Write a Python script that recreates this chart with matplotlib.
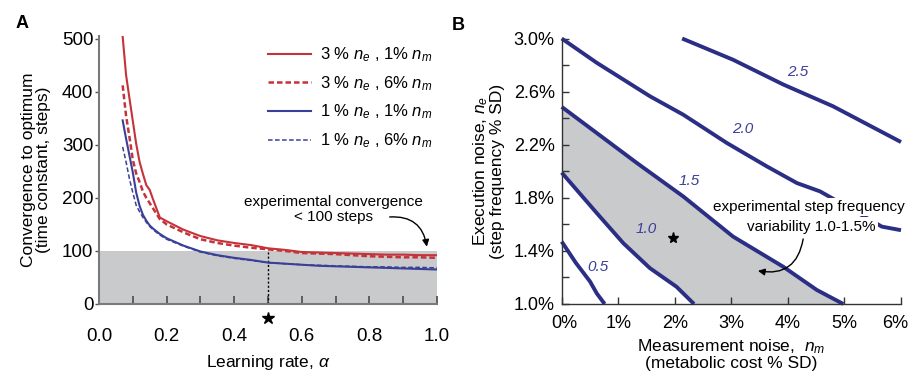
import matplotlib
matplotlib.use("Agg")
import matplotlib.pyplot as plt
import matplotlib.transforms as mtransforms
import numpy as np

plt.rcParams['font.family'] = ['Liberation Sans', 'DejaVu Sans']
plt.rcParams['mathtext.fontset'] = 'custom'
plt.rcParams['mathtext.rm'] = 'Liberation Sans'
plt.rcParams['mathtext.it'] = 'Liberation Sans:italic'
plt.rcParams['mathtext.bf'] = 'Liberation Sans:bold'

# ---------------- Panel A data ----------------
alpha = [0.07, 0.08, 0.09, 0.10, 0.11, 0.12, 0.13, 0.14, 0.15, 0.16, 0.18, 0.20,
         0.25, 0.30, 0.35, 0.40, 0.45, 0.50, 0.55, 0.60, 0.65, 0.70, 0.75, 0.80,
         0.85, 0.90, 0.95, 1.00]
tau_3e_1m = [504, 432, 388, 345, 302, 268, 245, 224, 215, 197, 163, 156,
             140, 128, 120, 115, 111, 105, 102, 98, 97, 96, 95, 94,
             93, 93, 92, 92]
tau_3e_6m = [412, 355, 315, 272, 246, 230, 212, 200, 190, 180, 160, 150,
             135, 122, 115, 110, 106, 103, 100, 96, 95, 94, 92, 90,
             89, 88, 88, 87]
tau_1e_1m = [346, 312, 280, 248, 210, 185, 168, 157, 148, 142, 132, 124,
             110, 99, 92, 87, 83, 78, 76, 74, 72, 71, 70, 69,
             68, 67, 66, 65]
tau_1e_6m = [296, 268, 236, 210, 186, 174, 163, 154, 146, 140, 130, 122,
             109, 98, 91, 86, 82, 78, 76, 74, 73, 72, 71, 70,
             70, 69, 69, 68]
series_labels = [r'3 % $n_e$ , 1% $n_m$', r'3 % $n_e$ , 6% $n_m$',
                 r'1 % $n_e$ , 1% $n_m$', r'1 % $n_e$ , 6% $n_m$']
exp_threshold = 100
chosen_alpha = 0.5
chosen_top = 104

# ---------------- Panel B data ----------------
c05_x = [0.0, 0.25, 0.50, 0.62, 0.76]
c05_y = [1.47, 1.31, 1.17, 1.08, 1.0]
c10_x = [0.0, 0.62, 1.09, 1.56, 2.03, 2.34]
c10_y = [1.99, 1.685, 1.458, 1.27, 1.13, 1.0]
c15_x = [0.0, 0.62, 1.33, 2.15, 3.03, 3.92, 4.51, 4.98]
c15_y = [2.485, 2.288, 2.062, 1.81, 1.508, 1.28, 1.106, 1.0]
c20_x = [0.0, 0.62, 1.56, 2.15, 2.92, 3.63, 4.16, 4.57, 5.10, 5.66, 6.0]
c20_y = [3.0, 2.817, 2.565, 2.426, 2.213, 2.036, 1.911, 1.848, 1.72, 1.583, 1.556]
c25_x = [2.13, 3.03, 3.92, 4.80, 6.0]
c25_y = [3.0, 2.84, 2.653, 2.489, 2.22]
contour_levels = ['0.5', '1.0', '1.5', '2.0', '2.5']
contour_label_x = [0.65, 1.49, 2.26, 3.20, 4.18]
contour_label_y = [1.282, 1.564, 1.923, 2.318, 2.745]
star_b = (1.96, 1.50)

red = '#c5323a'
blue = '#3b3f98'
navy = '#2b2e85'
grey_fill = '#c9cacc'

fig = plt.figure(figsize=(9.11, 3.81), dpi=100)

# ================= Panel A =================
axA = fig.add_axes([99/911, 1-304/381, 338/911, 268/381])
axA.set_xlim(0, 1.0)
axA.set_ylim(0, 505)
axA.axhspan(0, exp_threshold, xmin=0, xmax=1, color=grey_fill, lw=0, zorder=0)
lA1, = axA.plot(alpha, tau_3e_1m, color=red, lw=1.5, zorder=3)
lA2, = axA.plot(alpha, tau_3e_6m, color=red, lw=1.8, ls=(0, (2.2, 1.2)), zorder=3)
lA3, = axA.plot(alpha, tau_1e_1m, color=blue, lw=1.5, zorder=3)
lA4, = axA.plot(alpha, tau_1e_6m, color=blue, lw=1.1, ls=(0, (3, 1.6)), zorder=3)
axA.plot([chosen_alpha, chosen_alpha], [0, chosen_top], color='black', lw=1.0,
         ls=(0, (1.5, 1.5)), zorder=2)
axA.plot([chosen_alpha], [-27], marker='*', color='black', ms=9, clip_on=False,
         zorder=5)

for s in ['top', 'right']:
    axA.spines[s].set_visible(False)
for s in ['left', 'bottom']:
    axA.spines[s].set_color('#7a7a7a')
    axA.spines[s].set_linewidth(1.5)
xt = np.round(np.arange(0, 1.01, 0.1), 1)
axA.set_xticks(xt)
axA.set_xticklabels([f'{v:.1f}' if i % 2 == 0 else '' for i, v in enumerate(xt)])
axA.set_yticks([0, 100, 200, 300, 400, 500])
axA.tick_params(axis='x', direction='in', length=6, width=1.3, color='#555555',
                labelsize=13.5, pad=17)
axA.tick_params(axis='y', direction='out', length=3, width=1.0, color='#555555',
                labelsize=13.5, pad=1)
axA.set_xlabel(r'Learning rate, $\alpha$', fontsize=12.5, labelpad=6)
axA.set_ylabel('Convergence to optimum\n(time constant, steps)', fontsize=12.5,
               labelpad=8, linespacing=1.0)

leg = axA.legend([lA1, lA2, lA3, lA4], series_labels, loc='upper left',
                 bbox_to_anchor=(0.48, 0.99), frameon=False, fontsize=12,
                 handlelength=2.6, handletextpad=0.5, labelspacing=0.6,
                 borderaxespad=0)
axA.text(0.695, 178, 'experimental convergence\n< 100 steps', fontsize=11,
         ha='center', va='center', linespacing=1.15)
axA.annotate('', xy=(0.97, 108), xytext=(0.86, 164),
             arrowprops=dict(arrowstyle='-|>', color='black', lw=1.0,
                             connectionstyle='arc3,rad=-0.45',
                             mutation_scale=10, shrinkA=0, shrinkB=0))

fig.text(22/911, 1-23/381, 'A', fontsize=13, fontweight='bold', ha='center',
         va='center')

# ================= Panel B =================
axB = fig.add_axes([561.7/911, 1-304/381, 339.3/911, 265.5/381])
axB.set_xlim(0, 6)
axB.set_ylim(1.0, 3.0)

fill_x = list(c15_x) + list(c10_x[::-1])
fill_y = list(c15_y) + list(c10_y[::-1])
axB.fill(fill_x, fill_y, color=grey_fill, lw=0, zorder=0)
for cx, cy in [(c05_x, c05_y), (c10_x, c10_y), (c15_x, c15_y), (c20_x, c20_y),
               (c25_x, c25_y)]:
    axB.plot(cx, cy, color=navy, lw=2.8, solid_capstyle='butt', zorder=2,
             clip_on=False)
for lab, lx, ly in zip(contour_levels, contour_label_x, contour_label_y):
    axB.text(lx, ly, lab, color=blue, fontsize=11, style='italic', ha='center',
             va='center')
axB.plot([star_b[0]], [star_b[1]], marker='*', color='black', ms=8, zorder=5)

bb = dict(facecolor='white', edgecolor='none', pad=1.5)
axB.text(4.37, 1.730, 'experimental step frequency', fontsize=11, ha='center',
         va='center', bbox=bb, zorder=4)
axB.text(4.42, 1.583, 'variability 1.0-1.5%', fontsize=11, ha='center',
         va='center', bbox=bb, zorder=4)
axB.annotate('', xy=(3.47, 1.25), xytext=(4.27, 1.49),
             arrowprops=dict(arrowstyle='-|>', color='black', lw=1.0,
                             connectionstyle='arc3,rad=-0.5',
                             mutation_scale=10, shrinkA=0, shrinkB=0))

for s in ['top', 'right']:
    axB.spines[s].set_visible(False)
for s in ['left', 'bottom']:
    axB.spines[s].set_color('#333333')
    axB.spines[s].set_linewidth(1.0)
axB.set_xticks(range(0, 7))
axB.set_xticklabels([f'{i}%' for i in range(0, 7)])
yt = np.round(np.arange(1.0, 3.01, 0.2), 1)
axB.set_yticks(yt)
axB.set_yticklabels([f'{v:.1f}%' if i % 2 == 0 else '' for i, v in enumerate(yt)])
axB.tick_params(axis='both', direction='in', length=5, width=1.0, color='#333333',
                labelsize=13)
axB.tick_params(axis='x', pad=8)
axB.tick_params(axis='y', pad=5)
# nudge the outermost x tick labels slightly inward so they stay in the figure
xlabels = axB.get_xticklabels()
xlabels[0].set_transform(xlabels[0].get_transform() +
                         mtransforms.ScaledTranslation(3/100, 0, fig.dpi_scale_trans))
xlabels[-1].set_transform(xlabels[-1].get_transform() +
                          mtransforms.ScaledTranslation(-6/100, 0, fig.dpi_scale_trans))
axB.set_xlabel('Measurement noise,  $n_m$\n(metabolic cost % SD)', fontsize=12.5,
               labelpad=4, linespacing=1.0)
axB.set_ylabel('Execution noise, $n_e$\n(step frequency % SD)', fontsize=12.5,
               labelpad=6, linespacing=1.0)

fig.text(458/911, 1-25/381, 'B', fontsize=13, fontweight='bold', ha='center',
         va='center')

fig.savefig('out.png', dpi=100)
